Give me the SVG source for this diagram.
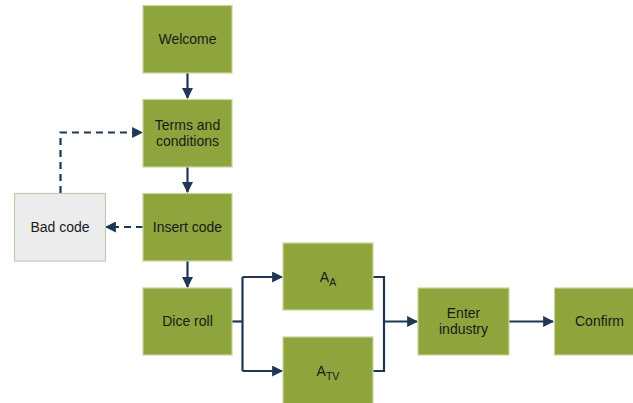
<svg xmlns="http://www.w3.org/2000/svg" width="633" height="403" viewBox="0 0 633 403">
  <style>
    .box { fill: #8ea43c; stroke: #c9d59b; stroke-width: 1.2; }
    .grey { fill: #ececec; stroke: #c8c8b0; stroke-width: 1.2; }
    .label { font-family: "Liberation Sans", Arial, sans-serif; font-size: 14px; fill: #1a1a1a; text-anchor: middle; }
    .sub { font-size: 10.5px; }
    .line { fill: none; stroke: #1f3655; stroke-width: 2.2; }
    .dash { stroke-dasharray: 7 5; }
  </style>
  <defs>
    <marker id="arrow" viewBox="0 0 10 10" refX="9" refY="5" markerWidth="5" markerHeight="5" orient="auto" markerUnits="strokeWidth">
      <path d="M0,0 L10,5 L0,10 Z" fill="#1f3655"/>
    </marker>
  </defs>
  <rect width="633" height="403" fill="#ffffff"/>

  <g id="connectors">
    <line class="line" x1="187.5" y1="73" x2="187.5" y2="98" marker-end="url(#arrow)"/>
    <line class="line" x1="187.5" y1="167" x2="187.5" y2="192" marker-end="url(#arrow)"/>
    <line class="line" x1="187.5" y1="261" x2="187.5" y2="287" marker-end="url(#arrow)"/>
    <line class="line dash" x1="143" y1="227" x2="106" y2="227" marker-end="url(#arrow)"/>
    <polyline class="line dash" points="60.5,193 60.5,132.5 142,132.5" marker-end="url(#arrow)"/>
    <polyline class="line" points="232,321.5 242.5,321.5"/>
    <polyline class="line" points="242.5,277 242.5,371"/>
    <line class="line" x1="242.5" y1="277" x2="282" y2="277" marker-end="url(#arrow)"/>
    <line class="line" x1="242.5" y1="371" x2="282" y2="371" marker-end="url(#arrow)"/>
    <polyline class="line" points="373,277 384,277 384,371 373,371"/>
    <line class="line" x1="384" y1="321.5" x2="417" y2="321.5" marker-end="url(#arrow)"/>
    <line class="line" x1="509" y1="321.5" x2="553" y2="321.5" marker-end="url(#arrow)"/>
  </g>

  <g id="welcome">
    <rect class="box" x="143" y="5.5" width="89" height="67.5"/>
    <text class="label" x="187.5" y="44">Welcome</text>
  </g>
  <g id="terms">
    <rect class="box" x="143" y="99.5" width="89" height="67.5"/>
    <text class="label" x="187.5" y="130">Terms and</text>
    <text class="label" x="187.5" y="146">conditions</text>
  </g>
  <g id="insert-code">
    <rect class="box" x="143" y="193.5" width="89" height="67.5"/>
    <text class="label" x="187.5" y="232">Insert code</text>
  </g>
  <g id="bad-code">
    <rect class="grey" x="14.5" y="193.5" width="91" height="67.5"/>
    <text class="label" x="60" y="232">Bad code</text>
  </g>
  <g id="dice-roll">
    <rect class="box" x="143" y="288" width="89" height="67"/>
    <text class="label" x="187.5" y="326">Dice roll</text>
  </g>
  <g id="a-a">
    <rect class="box" x="283" y="243" width="90" height="67"/>
    <text class="label" x="328" y="282">A<tspan class="sub" dy="4">A</tspan></text>
  </g>
  <g id="a-tv">
    <rect class="box" x="283" y="337" width="90" height="70"/>
    <text class="label" x="328" y="376">A<tspan class="sub" dy="4">TV</tspan></text>
  </g>
  <g id="enter-industry">
    <rect class="box" x="418" y="288" width="91" height="67"/>
    <text class="label" x="463.5" y="318">Enter</text>
    <text class="label" x="463.5" y="334">industry</text>
  </g>
  <g id="confirm">
    <rect class="box" x="554.5" y="288" width="90" height="67"/>
    <text class="label" x="599.5" y="326">Confirm</text>
  </g>
</svg>
